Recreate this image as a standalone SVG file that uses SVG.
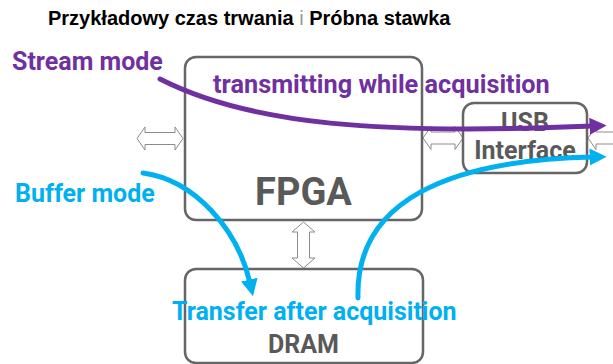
<svg xmlns="http://www.w3.org/2000/svg" width="613" height="364" viewBox="0 0 613 364">
  <style>
    .box { fill: #ffffff; stroke: #666666; stroke-width: 2.5; }
    .bus { fill: #ffffff; stroke: #8c8c8c; stroke-width: 1; }
    .lbl { font-family: Roboto, "Liberation Sans", sans-serif; font-weight: bold; }
    .node { fill: #595959; text-anchor: middle; }
    .purple { fill: #7030A0; }
    .blue { fill: #00B0F0; }
    .flowP { fill: none; stroke: #7030A0; stroke-width: 5; stroke-linecap: round; }
    .flowB { fill: none; stroke: #00B0F0; stroke-width: 5; stroke-linecap: round; }
  </style>
  <defs>
    <marker id="headP" viewBox="0 0 10 10" refX="2" refY="5" markerWidth="3.4" markerHeight="3.4" orient="auto" markerUnits="strokeWidth">
      <path d="M0,0 L10,5 L0,10 Z" fill="#7030A0"/>
    </marker>
    <marker id="headB" viewBox="0 0 10 10" refX="2" refY="5" markerWidth="3.4" markerHeight="3.4" orient="auto" markerUnits="strokeWidth">
      <path d="M0,0 L10,5 L0,10 Z" fill="#00B0F0"/>
    </marker>
  </defs>

  <rect width="613" height="364" fill="#ffffff"/>

  <!-- title -->
  <text x="48" y="25" font-family="'Liberation Sans', Arial, sans-serif" font-size="20" font-weight="bold" fill="#000000">Przykładowy czas trwania <tspan font-weight="normal" fill="#999999">i</tspan> Próbna stawka</text>

  <!-- bus arrows -->
  <g id="buses">
    <polygon class="bus" points="137,138.5 145,127 145,132.5 175,132.5 175,127 183,138.5 175,150 175,144.5 145,144.5 145,150"/>
    <polygon class="bus" points="423,138 431,126.5 431,132 455,132 455,126.5 463,138 455,149.5 455,144 431,144 431,149.5"/>
    <polygon class="bus" points="588,138 596,126.5 596,132 630,132 630,144 596,144 596,149.5"/>
    <polygon class="bus" points="303.5,222 315,232 309.5,232 309.5,258 315,258 303.5,268 292,258 297.5,258 297.5,232 292,232"/>
  </g>

  <g id="fpga">
    <rect class="box" x="185" y="57" width="237" height="163" rx="11"/>
    <text class="lbl node" x="303.5" y="205" font-size="38">FPGA</text>
  </g>

  <g id="usb">
    <rect class="box" x="463" y="103" width="124" height="70" rx="11"/>
    <text class="lbl node" x="525" y="131" font-size="25">USB</text>
    <text class="lbl node" x="525" y="159" font-size="25">Interface</text>
  </g>

  <g id="dram">
    <rect class="box" x="185" y="269" width="238" height="94" rx="11"/>
    <text class="lbl node" x="303.5" y="353" font-size="25">DRAM</text>
  </g>

  <!-- data flows -->
  <g id="connectors">
    <path class="flowP" d="M160,79 C250,125 380,135 593,126" marker-end="url(#headP)"/>
    <path class="flowB" d="M143,173 C195,180 238,230 250,283" marker-end="url(#headB)"/>
    <path class="flowB" d="M358,298 C355,200 450,160 593,157" marker-end="url(#headB)"/>
  </g>

  <!-- flow labels -->
  <text class="lbl purple" x="12" y="70" font-size="25">Stream mode</text>
  <text class="lbl purple" x="213" y="93" font-size="25.3">transmitting while acquisition</text>
  <text class="lbl blue" x="15" y="202" font-size="25">Buffer mode</text>
  <text class="lbl blue" x="172" y="320" font-size="25">Transfer after acquisition</text>
</svg>
